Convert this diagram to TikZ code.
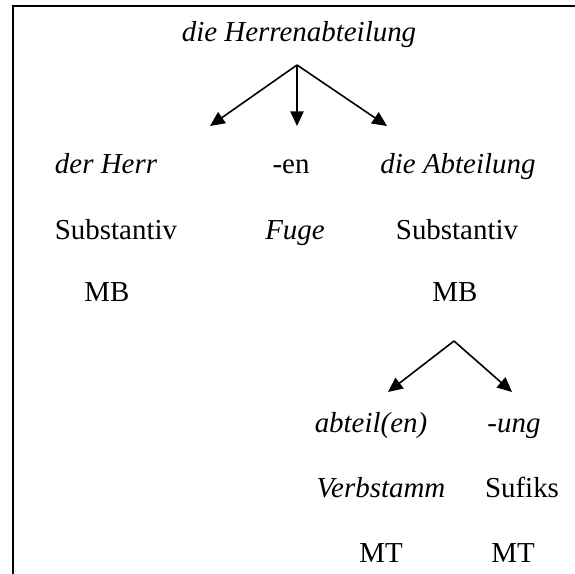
\documentclass[tikz,border=0pt]{standalone}
\usepackage{fontspec}
\setmainfont{Liberation Serif}
\usetikzlibrary{arrows.meta}
\begin{document}
\begin{tikzpicture}[x=0.75pt,y=-0.75pt,
  lbl/.style={inner sep=0pt,anchor=base,font=\fontsize{21.7pt}{26pt}\selectfont},
  it/.style={lbl,font=\fontsize{21.7pt}{26pt}\selectfont\itshape},
  arr/.style={line width=1.2pt,-{Triangle[length=11pt,width=10pt]}}]
\useasboundingbox (0,0) rectangle (575,574);
% frame: top and left edges only
\draw[line width=1.6pt] (575,6) -- (13,6) -- (13,574);
% compound and its immediate constituents
\node[it] (word) at (299,42) {die Herrenabteilung};
\coordinate (r1) at (297,65);
\node[it]  (herr) at (106,174) {der Herr};
\node[lbl] (en)   at (291,174) {-en};
\node[it]  (abt)  at (458,174) {die Abteilung};
\node[lbl] (s1)   at (116,239) {Substantiv};
\node[it]  (fuge) at (295,239) {Fuge};
\node[lbl] (s2)   at (457,239) {Substantiv};
\node[lbl] (mb1)  at (107,301) {MB};
\node[lbl] (mb2)  at (455,301) {MB};
\coordinate (a1) at (210,126);
\coordinate (a2) at (297,126);
\coordinate (a3) at (387,126);
\draw[arr] (r1) -- (a1);
\draw[arr] (r1) -- (a2);
\draw[arr] (r1) -- (a3);
% split of the second constituent
\coordinate (r2) at (454,341);
\coordinate (b1) at (388,392);
\coordinate (b2) at (512,392);
\draw[arr] (r2) -- (b1);
\draw[arr] (r2) -- (b2);
\node[it]  (abteil) at (371,432) {abteil(en)};
\node[it]  (ung)    at (514,432) {-ung};
\node[it]  (vst)    at (381,497) {Verbstamm};
\node[lbl] (suf)    at (522,497) {Sufiks};
\node[lbl] (mt1)    at (381,562) {MT};
\node[lbl] (mt2)    at (513,562) {MT};
\end{tikzpicture}
\end{document}
